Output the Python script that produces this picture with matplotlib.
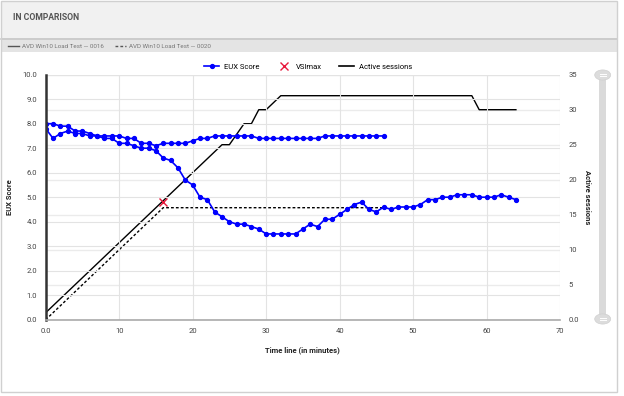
import matplotlib
matplotlib.use('Agg')
import matplotlib.pyplot as plt
from matplotlib.lines import Line2D
from matplotlib.patches import Rectangle, Circle

plt.rcParams['font.family'] = ['Roboto', 'DejaVu Sans']

# EUX score per minute, test 0016 (solid) and 0020 (dashed)
minutes_a = list(range(65))
eux_a = [8.0, 8.0, 7.9, 7.9, 7.7, 7.7, 7.6, 7.5, 7.4, 7.4,
         7.2, 7.2, 7.1, 7.0, 7.0, 6.9, 6.6, 6.5, 6.2, 5.7,
         5.5, 5.0, 4.9, 4.4, 4.2, 4.0, 3.9, 3.9, 3.8, 3.7,
         3.5, 3.5, 3.5, 3.5, 3.5, 3.7, 3.9, 3.8, 4.1, 4.1,
         4.3, 4.5, 4.7, 4.8, 4.5, 4.4, 4.6, 4.5, 4.6, 4.6,
         4.6, 4.7, 4.9, 4.9, 5.0, 5.0, 5.1, 5.1, 5.1, 5.0,
         5.0, 5.0, 5.1, 5.0, 4.9]
minutes_b = list(range(47))
eux_b = [7.8, 7.4, 7.6, 7.7, 7.6, 7.6, 7.5, 7.5, 7.5, 7.5,
         7.5, 7.4, 7.4, 7.2, 7.2, 7.1, 7.2, 7.2, 7.2, 7.2,
         7.3, 7.4, 7.4, 7.5, 7.5, 7.5, 7.5, 7.5, 7.5, 7.4,
         7.4, 7.4, 7.4, 7.4, 7.4, 7.4, 7.4, 7.4, 7.5, 7.5,
         7.5, 7.5, 7.5, 7.5, 7.5, 7.5, 7.5]

# active sessions (break points of the line)
sess_x_a = [0, 24, 25, 27, 28, 29, 30, 32, 58, 59, 64]
sess_a = [1, 25, 25, 28, 28, 30, 30, 32, 32, 30, 30]
sess_x_b = [0, 16, 46]
sess_b = [0, 16, 16]

vsimax_x = 16
vsimax_y = 4.8

xticks = [0, 10, 20, 30, 40, 50, 60, 70]
xlabels = ['0.0', '10', '20', '30', '40', '50', '60', '70']
yticks = [0, 1, 2, 3, 4, 5, 6, 7, 8, 9, 10]
ylabels = ['0.0', '1.0', '2.0', '3.0', '4.0', '5.0', '6.0', '7.0', '8.0', '9.0', '10.0']
sticks = [0, 5, 10, 15, 20, 25, 30, 35]
slabels = ['0.0', '5', '10', '15', '20', '25', '30', '35']

W, H = 624, 396
fig = plt.figure(figsize=(W / 100, H / 100), dpi=100)
fig.patch.set_facecolor('white')


def fx(px):
    return px / W


def fy(py):
    return 1 - py / H


# page chrome: header, legend bar, border
fig.patches.append(Rectangle((fx(1), fy(38)), fx(616), 37 / H, transform=fig.transFigure,
                             facecolor='#f1f1f1', edgecolor='none', zorder=0))
fig.patches.append(Rectangle((fx(1), fy(52)), fx(616), 14 / H, transform=fig.transFigure,
                             facecolor='#e4e4e4', edgecolor='none', zorder=0))
fig.lines.append(Line2D([fx(1), fx(617)], [fy(38.5), fy(38.5)], transform=fig.transFigure,
                        color='#c8c8c8', lw=1.2))
fig.patches.append(Rectangle((fx(1), fy(392)), fx(616), 391 / H, transform=fig.transFigure,
                             facecolor='none', edgecolor='#d0d0d0', lw=1, zorder=5))
fig.text(fx(13), fy(18), 'IN COMPARISON', fontsize=6.2, fontweight='bold', color='#555555',
         va='center', ha='left')
fig.lines.append(Line2D([fx(8), fx(19)], [fy(46), fy(46)], transform=fig.transFigure,
                        color='#555555', lw=1))
fig.text(fx(22), fy(46), 'AVD Win10 Load Test \u2014 0016', fontsize=4.5, color='#777777',
         va='center', ha='left')
fig.lines.append(Line2D([fx(115), fx(126)], [fy(46), fy(46)], transform=fig.transFigure,
                        color='#555555', lw=1, ls=(0, (2, 1.5))))
fig.text(fx(129), fy(46), 'AVD Win10 Load Test \u2014 0020', fontsize=4.5, color='#777777',
         va='center', ha='left')

# slider on the right
fig.patches.append(Rectangle((fx(599), fy(319)), fx(7), 244 / H, transform=fig.transFigure,
                             facecolor='#dadada', edgecolor='none'))
for cy in [75, 319]:
    fig.patches.append(Circle((fx(602.7), fy(cy)), 8 / W, transform=fig.transFigure,
                              facecolor='#dcdcdc', edgecolor='#d0d0d0', lw=0.5))
    for dy in [-1.2, 1.2]:
        fig.lines.append(Line2D([fx(599.5), fx(606)], [fy(cy + dy), fy(cy + dy)],
                                transform=fig.transFigure, color='white', lw=0.7))

ax = fig.add_axes([fx(45.7), fy(319.7), (560 - 45.7) / W, (319.7 - 74.7) / H])
ax2 = ax.twinx()
ax.set_zorder(ax2.get_zorder() + 1)
ax.patch.set_visible(False)

# sessions lines
ax2.plot(sess_x_a, sess_a, color='black', lw=1)
ax2.plot(sess_x_b, sess_b, color='black', lw=1, ls=(0, (2, 1.5)))
ax2.set_ylim(0, 35)
ax2.set_yticks(sticks)
ax2.set_yticklabels(slabels)
ax2.grid(axis='y', color='#ebebeb', lw=1)
ax2.set_ylabel('Active sessions', fontsize=5.5, fontweight='bold', rotation=270,
               labelpad=9, color='#222222')

# EUX lines
ax.plot(minutes_a, eux_a, color='#0000ff', lw=1.2, marker='o', ms=2.8)
ax.plot(minutes_b, eux_b, color='#0000ff', lw=1.2, marker='o', ms=2.8)
ax.plot([vsimax_x], [vsimax_y], ls='none', marker='x', color='#e8193c', ms=6, mew=1)
ax.set_xlim(0, 70)
ax.set_ylim(0, 10)
ax.set_xticks(xticks)
ax.set_xticklabels(xlabels)
ax.set_yticks(yticks)
ax.set_yticklabels(ylabels)
ax.grid(color='#e3e3e3', lw=0.8)
ax.set_axisbelow(True)
ax.set_xlabel('Time line (in minutes)', fontsize=5.5, fontweight='bold', labelpad=9,
              color='#222222')
ax.set_ylabel('EUX Score', fontsize=5.5, fontweight='bold', labelpad=7, color='#222222')

for a in (ax, ax2):
    a.tick_params(length=0, labelsize=5.5, labelcolor='#444444', pad=6)
    for s in a.spines.values():
        s.set_visible(False)
ax.spines['left'].set_visible(True)
ax.spines['left'].set_color('#333333')
ax.spines['left'].set_linewidth(1.8)
ax.spines['bottom'].set_visible(True)
ax.spines['bottom'].set_color('#aaaaaa')
ax.spines['bottom'].set_linewidth(1.2)

handles = [Line2D([], [], color='#0000ff', lw=1.2, marker='o', ms=2.8),
           Line2D([], [], ls='none', marker='x', color='#e8193c', ms=6, mew=1),
           Line2D([], [], color='black', lw=1.2)]
ax.legend(handles, ['EUX Score', 'VSImax', 'Active sessions'], ncol=3, frameon=False,
          loc='lower center', bbox_to_anchor=(0.51, 1.0), fontsize=5.5, handlelength=2,
          columnspacing=2.2, handletextpad=0.6, borderaxespad=0.2)

fig.savefig('out.png', dpi=100)
